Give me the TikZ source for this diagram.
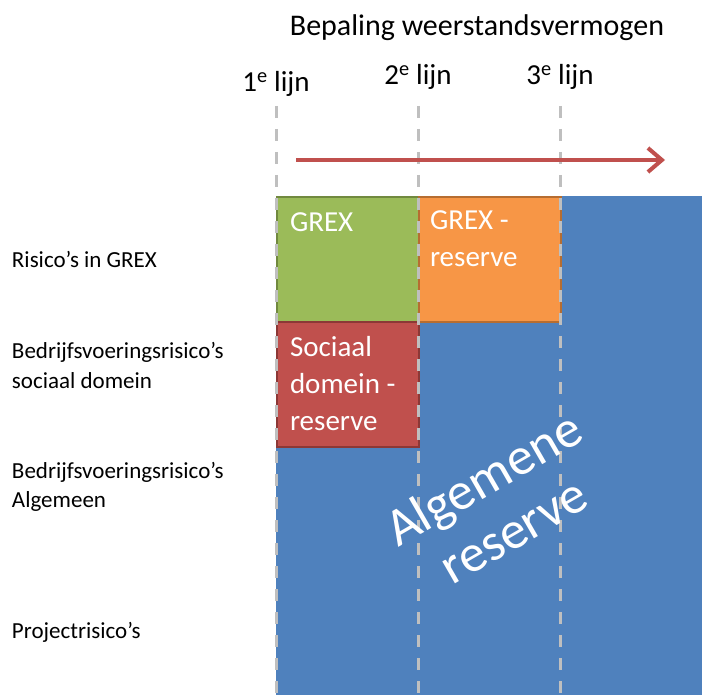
\documentclass[tikz,border=0pt]{standalone}
\usepackage{fontspec}
\setmainfont{Carlito}
\usetikzlibrary{arrows.meta,positioning}
\definecolor{blauw}{HTML}{4F81BD}
\definecolor{groen}{HTML}{9BBB59}
\definecolor{groenrand}{HTML}{71893F}
\definecolor{oranje}{HTML}{F79646}
\definecolor{oranjerand}{HTML}{B66D31}
\definecolor{rood}{HTML}{C0504D}
\definecolor{roodrand}{HTML}{8C3836}
\definecolor{lijngrijs}{HTML}{BFBFBF}

\begin{document}
\begin{tikzpicture}[x=1pt, y=1pt, every node/.style={inner sep=0pt, outer sep=0pt},
  vak/.style={anchor=north west, minimum width=142pt, minimum height=125pt, line width=2pt},
  vaktekst/.style={anchor=north west, align=left, text=white, font=\fontsize{29}{37}\selectfont},
  rijtekst/.style={anchor=base west, align=left, font=\fontsize{23}{29}\selectfont},
  lijntekst/.style={anchor=base, font=\fontsize{29}{32}\selectfont},
  grens/.style={lijngrijs, line width=3pt, dash pattern=on 12pt off 11pt}]
\useasboundingbox (0,0) rectangle (702,-695);
% achtergrond en vakken
\node[vak, fill=blauw, minimum width=426pt, minimum height=499pt] (alg) at (276,-196) {};
\node[vak, fill=groen, draw=groenrand] (grex) at (277,-197) {};
\node[vak, fill=oranje, draw=oranjerand, right=0pt of grex] (grexres) {};
\node[vak, fill=rood, draw=roodrand, below=0pt of grex] (sociaal) {};
% grenzen tussen de lijnen
\coordinate (l1top) at (276,-106);
\coordinate (l2top) at (418,-106);
\coordinate (l3top) at (560,-106);
\coordinate (l1bot) at (276,-695);
\coordinate (l2bot) at (418,-695);
\coordinate (l3bot) at (560,-695);
\draw[grens] (l1top) -- (l1bot);
\draw[grens] (l2top) -- (l2bot);
\draw[grens] (l3top) -- (l3bot);
% koppen
\node[anchor=base, font=\fontsize{30}{33}\selectfont] (titel) at (477,-36) {Bepaling weerstandsvermogen};
\node[lijntekst] (lijn1) at (276,-92) {1\textsuperscript{e} lijn};
\node[lijntekst] (lijn2) at (418,-85) {2\textsuperscript{e} lijn};
\node[lijntekst] (lijn3) at (560,-85) {3\textsuperscript{e} lijn};
% pijl
\coordinate (pijlstart) at (296,-160);
\coordinate (pijleind) at (665,-160);
\draw[rood, line width=4.5pt, -{Straight Barb[length=14pt, width=24pt, line width=4pt]}] (pijlstart) -- (pijleind);
% teksten in de vakken
\node[vaktekst] (grextekst) at ([shift={(13,-16)}]grex.north west) {GREX};
\node[vaktekst] (grexrestekst) at ([shift={(11,-14)}]grexres.north west) {GREX -\\reserve};
\node[vaktekst] (sociaaltekst) at ([shift={(13,-14)}]sociaal.north west) {Sociaal\\domein -\\reserve};
\node[text=white, align=center, rotate=30, font=\fontsize{53}{60}\selectfont] (algtekst) at (498,-504) {Algemene\\reserve};
% rijen
\node[rijtekst] (rij1) at (12,-268) {Risico’s in GREX};
\node[rijtekst] (rij2) at (12,-388) {Bedrijfsvoeringsrisico’s\\sociaal domein};
\node[rijtekst] (rij3) at (12,-507) {Bedrijfsvoeringsrisico’s\\Algemeen};
\node[rijtekst] (rij4) at (12,-638) {Projectrisico’s};
\end{tikzpicture}
\end{document}
